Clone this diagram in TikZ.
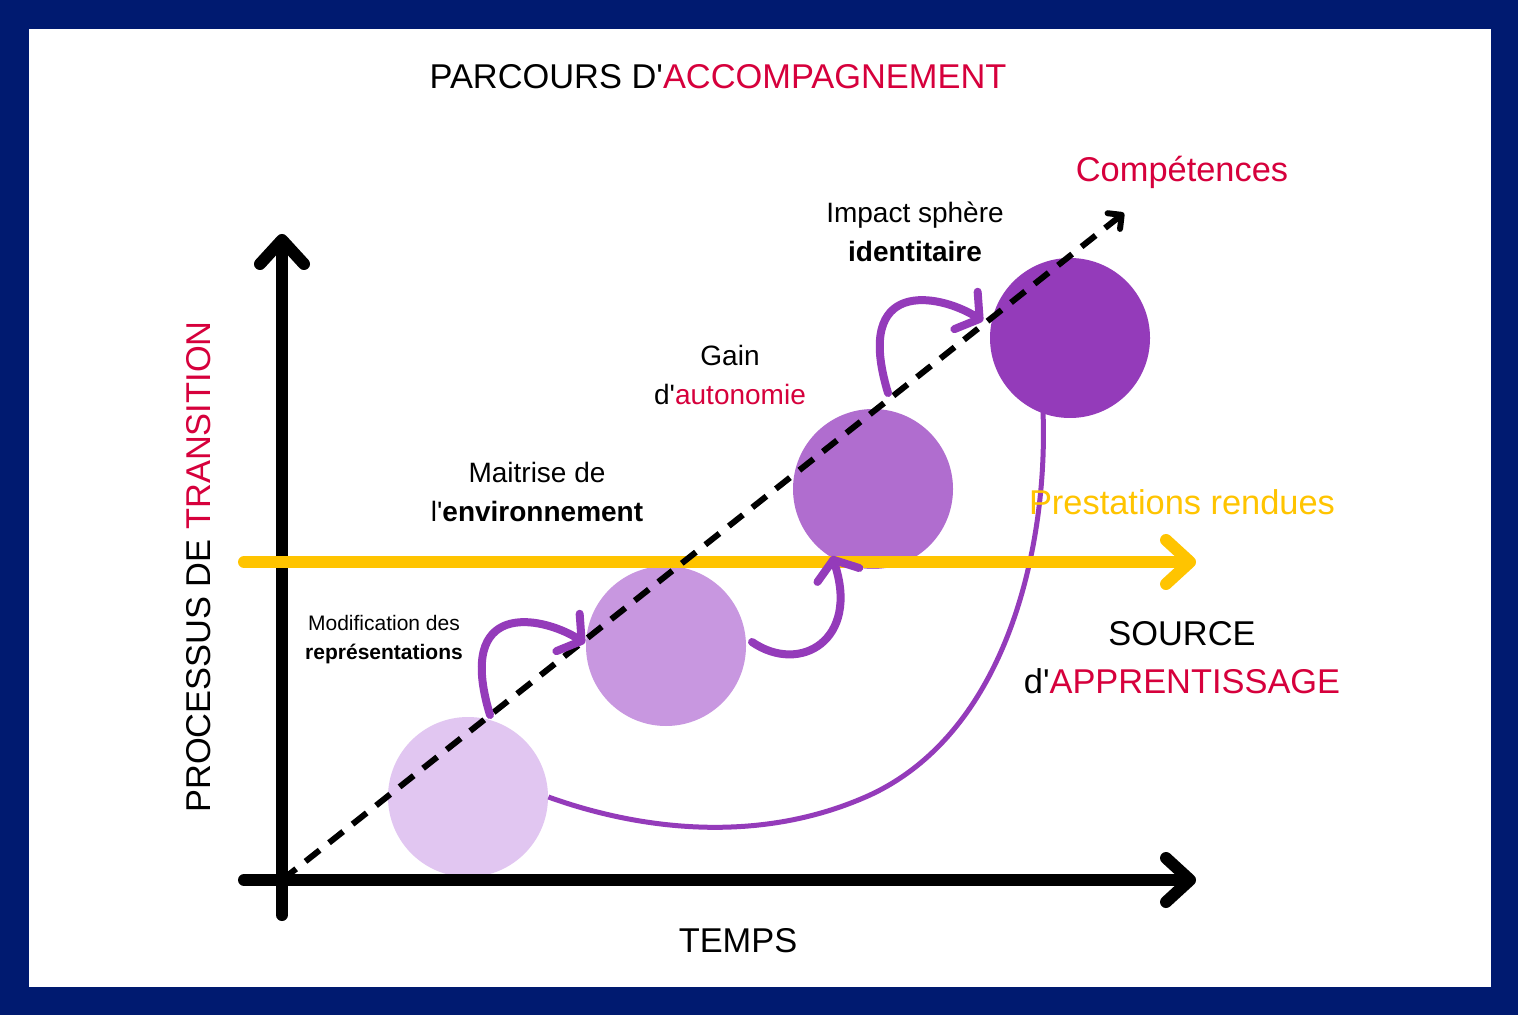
\documentclass[tikz,border=0pt]{standalone}
\usepackage{fontspec}
\setmainfont{Liberation Sans}[Ligatures=TeXOff]
\usepackage{tikz}
\usetikzlibrary{arrows.meta,calc,positioning}
\definecolor{pa-marine}{HTML}{001A70}
\definecolor{pa-rouge}{HTML}{D6003C}
\definecolor{pa-jaune}{HTML}{FFC400}
\definecolor{pa-violet}{HTML}{943BBA}
\definecolor{pa-mauve1}{HTML}{E1C6F1}
\definecolor{pa-mauve2}{HTML}{C897E0}
\definecolor{pa-mauve3}{HTML}{B06DCF}

\begin{document}
\begin{tikzpicture}[x=0.5pt,y=-0.5pt,
  axe/.style={line width=6pt,line cap=round,-{Straight Barb[round,length=12pt,width=22pt]}},
  bulle/.style={circle,minimum size=80pt,inner sep=0pt},
  boucle/.style={pa-violet,line width=4pt,line cap=round,-{Straight Barb[round,length=8pt,width=22pt]}},
  grand/.style={font=\fontsize{17.2}{24}\selectfont,align=center},
  moyen/.style={font=\fontsize{14}{19.5}\selectfont,align=center},
  petit/.style={font=\fontsize{10.5}{14.5}\selectfont,align=center}]
  % Cadre
  \fill[pa-marine] (0,0) rectangle (1518,1015);
  \fill[white] (29,29) rectangle (1491,987);
  \useasboundingbox (0,0) rectangle (1518,1015);

  % Bulles
  \node[bulle,fill=pa-mauve1] (c1) at (468,797) {};
  \node[bulle,fill=pa-mauve2] (c2) at (666,646) {};
  \node[bulle,fill=pa-mauve3] (c3) at (873,489) {};
  \node[bulle,fill=pa-violet] (c4) at (1070,338) {};

  % Axes
  \coordinate (O) at (282,880);
  \coordinate (Ybas) at (282,915);
  \coordinate (Yhaut) at (282,234);
  \coordinate (Xgauche) at (244,880);
  \coordinate (Xdroite) at (1196,880);
  \draw[axe] (Ybas) -- (Yhaut);
  \draw[axe] (Xgauche) -- (Xdroite);

  % Lien long
  \coordinate (L4) at (1043,412);
  \draw[pa-violet,line width=2.5pt] (c1.east) .. controls (640,830) and (760,845) .. (870,795)
    .. controls (1010,730) and (1048,540) .. (L4);

  % Prestations
  \coordinate (Pg) at (244,562);
  \coordinate (Pd) at (1196,562);
  \draw[axe,pa-jaune] (Pg) -- (Pd);

  % Diagonale
  \coordinate (D) at (1124,213);
  \draw[line width=3pt,dash pattern=on 9pt off 6pt,-{Straight Barb[round,length=5pt,width=10pt]}] (O) -- (D);

  % Boucles
  \draw[boucle] (490,715) .. controls (455,600) and (540,615) .. (585,643);
  \draw[boucle] (752,642) .. controls (800,675) and (860,640) .. (832,556);
  \draw[boucle] (888,393) .. controls (853,278) and (938,293) .. (983,321);

  % Textes
  \node[grand] (titre) at (718,77) {PARCOURS D'\textcolor{pa-rouge}{ACCOMPAGNEMENT}};
  \node[grand,pa-rouge] (competences) at (1182,172) {Compétences};
  \node[moyen] (impact) at (915,232) {Impact sphère\\\textbf{identitaire}};
  \node[moyen] (gain) at (730,375) {Gain\\d'\textcolor{pa-rouge}{autonomie}};
  \node[moyen] (maitrise) at (537,492) {Maitrise de\\l'\textbf{environnement}};
  \node[petit] (modif) at (384,640) {Modification des\\\textbf{représentations}};
  \node[grand,pa-jaune] (prestations) at (1182,502) {Prestations rendues};
  \node[grand] (source) at (1182,658) {SOURCE\\d'\textcolor{pa-rouge}{APPRENTISSAGE}};
  \node[grand] (temps) at (738,941) {TEMPS};
  \node[grand,rotate=90] (processus) at (199,567) {PROCESSUS DE \textcolor{pa-rouge}{TRANSITION}};
\end{tikzpicture}
\end{document}
